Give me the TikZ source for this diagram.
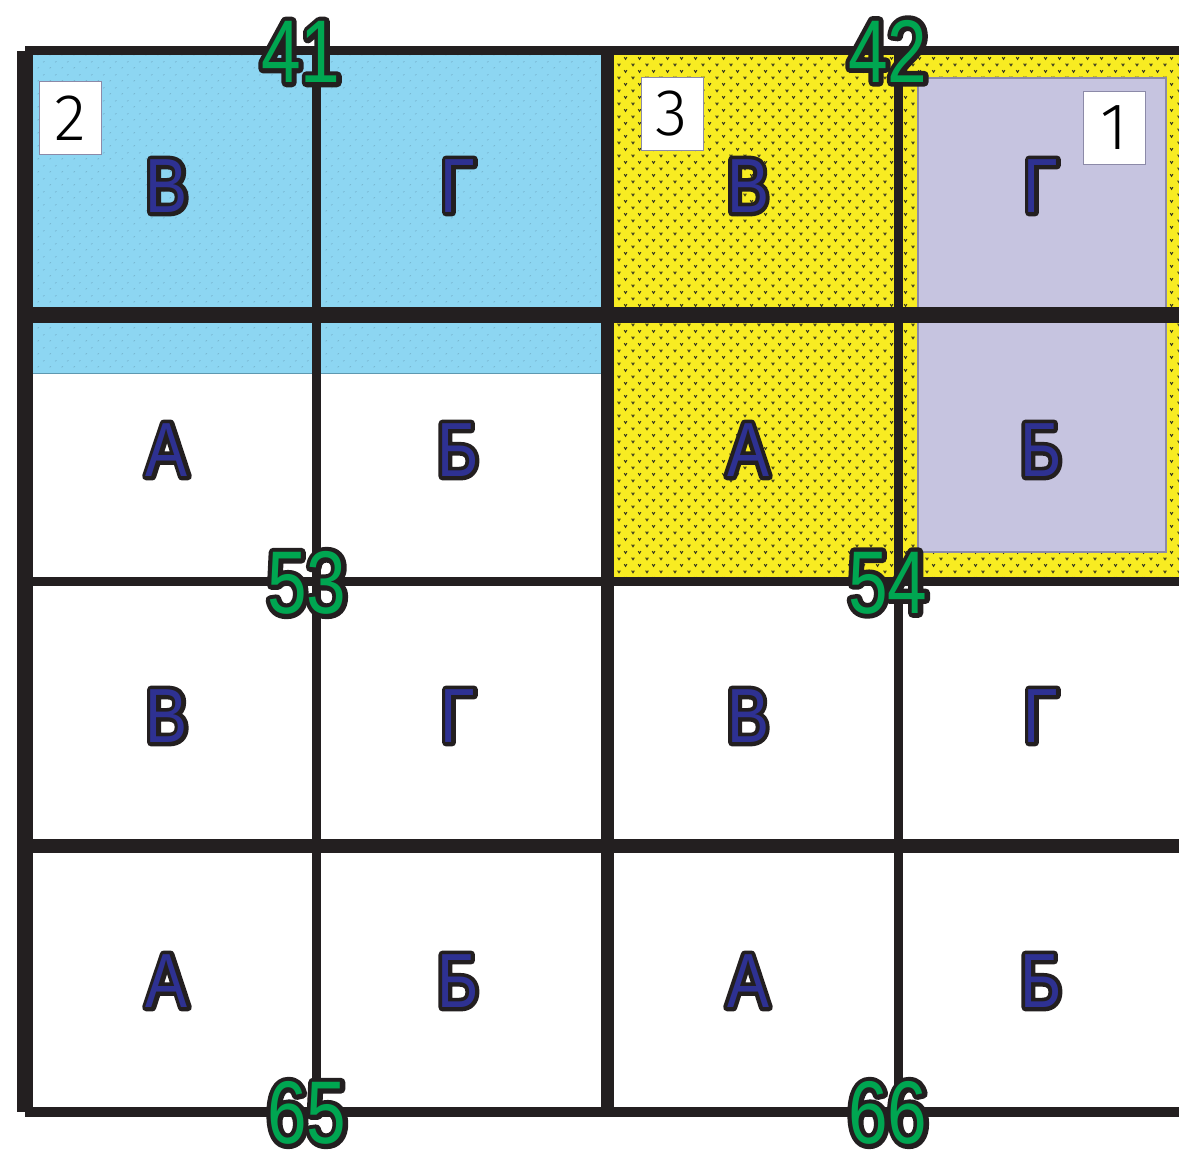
\documentclass[tikz,border=0pt]{standalone}
\usepackage{fontspec}
\usetikzlibrary{patterns.meta}
\newfontfamily\letfont[FakeStretch=0.82]{Liberation Sans}
\newfontfamily\letfontrim[FakeStretch=0.82,FakeBold=10.4]{Liberation Sans}
\newfontfamily\numfont[FakeStretch=0.8]{Liberation Sans}
\newfontfamily\numfontrim[FakeStretch=0.8,FakeBold=10.4]{Liberation Sans}
\newfontfamily\boxfont{Fira Sans Light}
\definecolor{linecol}{HTML}{231F20}
\definecolor{skyfill}{HTML}{8DD6F2}
\definecolor{skyedge}{HTML}{5E98B0}
\definecolor{skytex}{HTML}{6FA8C2}
\definecolor{yelfill}{HTML}{F8EC22}
\definecolor{yeltex}{HTML}{3A3A20}
\definecolor{lavfill}{HTML}{C6C4E0}
\definecolor{lavedge}{HTML}{8C8AA8}
\definecolor{letblue}{HTML}{2E3192}
\definecolor{numgreen}{HTML}{00A651}
\pgfdeclarepattern{
  name=vmarks, type=uncolored,
  bottom left={\pgfpoint{0pt}{0pt}},
  top right={\pgfpoint{7pt}{6.7pt}},
  tile size={\pgfpoint{7pt}{6.7pt}},
  code={
    \pgfsetlinewidth{0.55pt}
    \pgfpathmoveto{\pgfpoint{0.9pt}{2.3pt}}
    \pgfpathlineto{\pgfpoint{1.6pt}{1.2pt}}
    \pgfpathlineto{\pgfpoint{2.3pt}{2.3pt}}
    \pgfpathmoveto{\pgfpoint{4.4pt}{5.65pt}}
    \pgfpathlineto{\pgfpoint{5.1pt}{4.55pt}}
    \pgfpathlineto{\pgfpoint{5.8pt}{5.65pt}}
    \pgfusepath{stroke}
  }
}
\pgfdeclarepattern{
  name=specks, type=uncolored,
  bottom left={\pgfpoint{0pt}{0pt}},
  top right={\pgfpoint{6pt}{6.5pt}},
  tile size={\pgfpoint{6pt}{6.5pt}},
  code={
    \pgfsetlinewidth{0.3pt}
    \pgfpathmoveto{\pgfpoint{0.8pt}{1.5pt}}
    \pgfpathlineto{\pgfpoint{1.6pt}{1.9pt}}
    \pgfpathmoveto{\pgfpoint{3.8pt}{4.7pt}}
    \pgfpathlineto{\pgfpoint{4.6pt}{5.1pt}}
    \pgfusepath{stroke}
  }
}
\newcommand\CellLet[1]{\pgfsetroundjoin\rlap{\color{linecol}\letfontrim\fontsize{38.4}{40}\selectfont #1}\textcolor{letblue}{#1}}
\newcommand\CellNum[1]{\pgfsetroundjoin\rlap{\color{linecol}\numfontrim\fontsize{44.5}{46}\selectfont #1}\textcolor{numgreen}{#1}}
\tikzset{
  letter/.style={inner sep=0pt, line join=round, font=\letfont\fontsize{38.4}{40}\selectfont},
  cellnum/.style={inner sep=0pt, line join=round, font=\numfont\fontsize{44.5}{46}\selectfont},
  tagbox/.style={draw=lavedge, line width=0.5pt, fill=white, inner sep=0pt,
    minimum width=31pt, minimum height=36.5pt,
    font=\boxfont\fontsize{33}{34}\selectfont, text=black},
  gridline/.style={fill=linecol}
}
\begin{document}
\begin{tikzpicture}[x=0.5pt, y=-0.5pt]
\useasboundingbox (0,0) rectangle (1179,1150);
% coloured areas
\fill[skyfill] (25,50) rectangle (607,374);
\fill[pattern=specks, pattern color=skytex] (25,50) rectangle (607,374);
\draw[skyedge, line width=0.5pt] (25,374) -- (607,374);
\fill[yelfill] (607,50) rectangle (1190,581);
\fill[pattern=vmarks, pattern color=yeltex] (607,50) rectangle (1190,581);
\filldraw[fill=lavfill, draw=lavedge, line width=0.6pt] (918,78) rectangle (1166,552);
% grid
\fill[gridline] (17,51) rectangle (33,1112);
\fill[gridline] (25,46) rectangle (1190,55);
\fill[gridline] (25,307) rectangle (1190,323);
\fill[gridline] (25,577) rectangle (1190,586);
\fill[gridline] (25,839) rectangle (1190,853);
\fill[gridline] (25,1107) rectangle (1190,1117);
\fill[gridline] (312,46) rectangle (321,1117);
\fill[gridline] (600.5,46) rectangle (613.5,1117);
\fill[gridline] (893.5,46) rectangle (902.5,1117);
% tags
\node[tagbox] (t2) at (70,118.5) {2};
\node[tagbox] (t3) at (672,114) {3};
\node[tagbox] (t1) at (1114,128) {1};
% letters
\node[letter] (l11) at (167,186) {\CellLet{В}};
\node[letter] (l12) at (458,186) {\CellLet{Г}};
\node[letter] (l13) at (748,186) {\CellLet{В}};
\node[letter] (l14) at (1041,186) {\CellLet{Г}};
\node[letter] (l21) at (167,450) {\CellLet{А}};
\node[letter] (l22) at (458,450) {\CellLet{Б}};
\node[letter] (l23) at (748,450) {\CellLet{А}};
\node[letter] (l24) at (1041,450) {\CellLet{Б}};
\node[letter] (l31) at (167,716) {\CellLet{В}};
\node[letter] (l32) at (458,716) {\CellLet{Г}};
\node[letter] (l33) at (748,716) {\CellLet{В}};
\node[letter] (l34) at (1041,716) {\CellLet{Г}};
\node[letter] (l41) at (167,981) {\CellLet{А}};
\node[letter] (l42) at (458,981) {\CellLet{Б}};
\node[letter] (l43) at (748,981) {\CellLet{А}};
\node[letter] (l44) at (1041,981) {\CellLet{Б}};
% numbers
\node[cellnum] (n41) at (301,52) {\CellNum{41}};
\node[cellnum] (n42) at (888,51) {\CellNum{42}};
\node[cellnum] (n53) at (307,583) {\CellNum{53}};
\node[cellnum] (n54) at (888,583) {\CellNum{54}};
\node[cellnum] (n65) at (307,1113) {\CellNum{65}};
\node[cellnum] (n66) at (888,1113) {\CellNum{66}};
\end{tikzpicture}
\end{document}
